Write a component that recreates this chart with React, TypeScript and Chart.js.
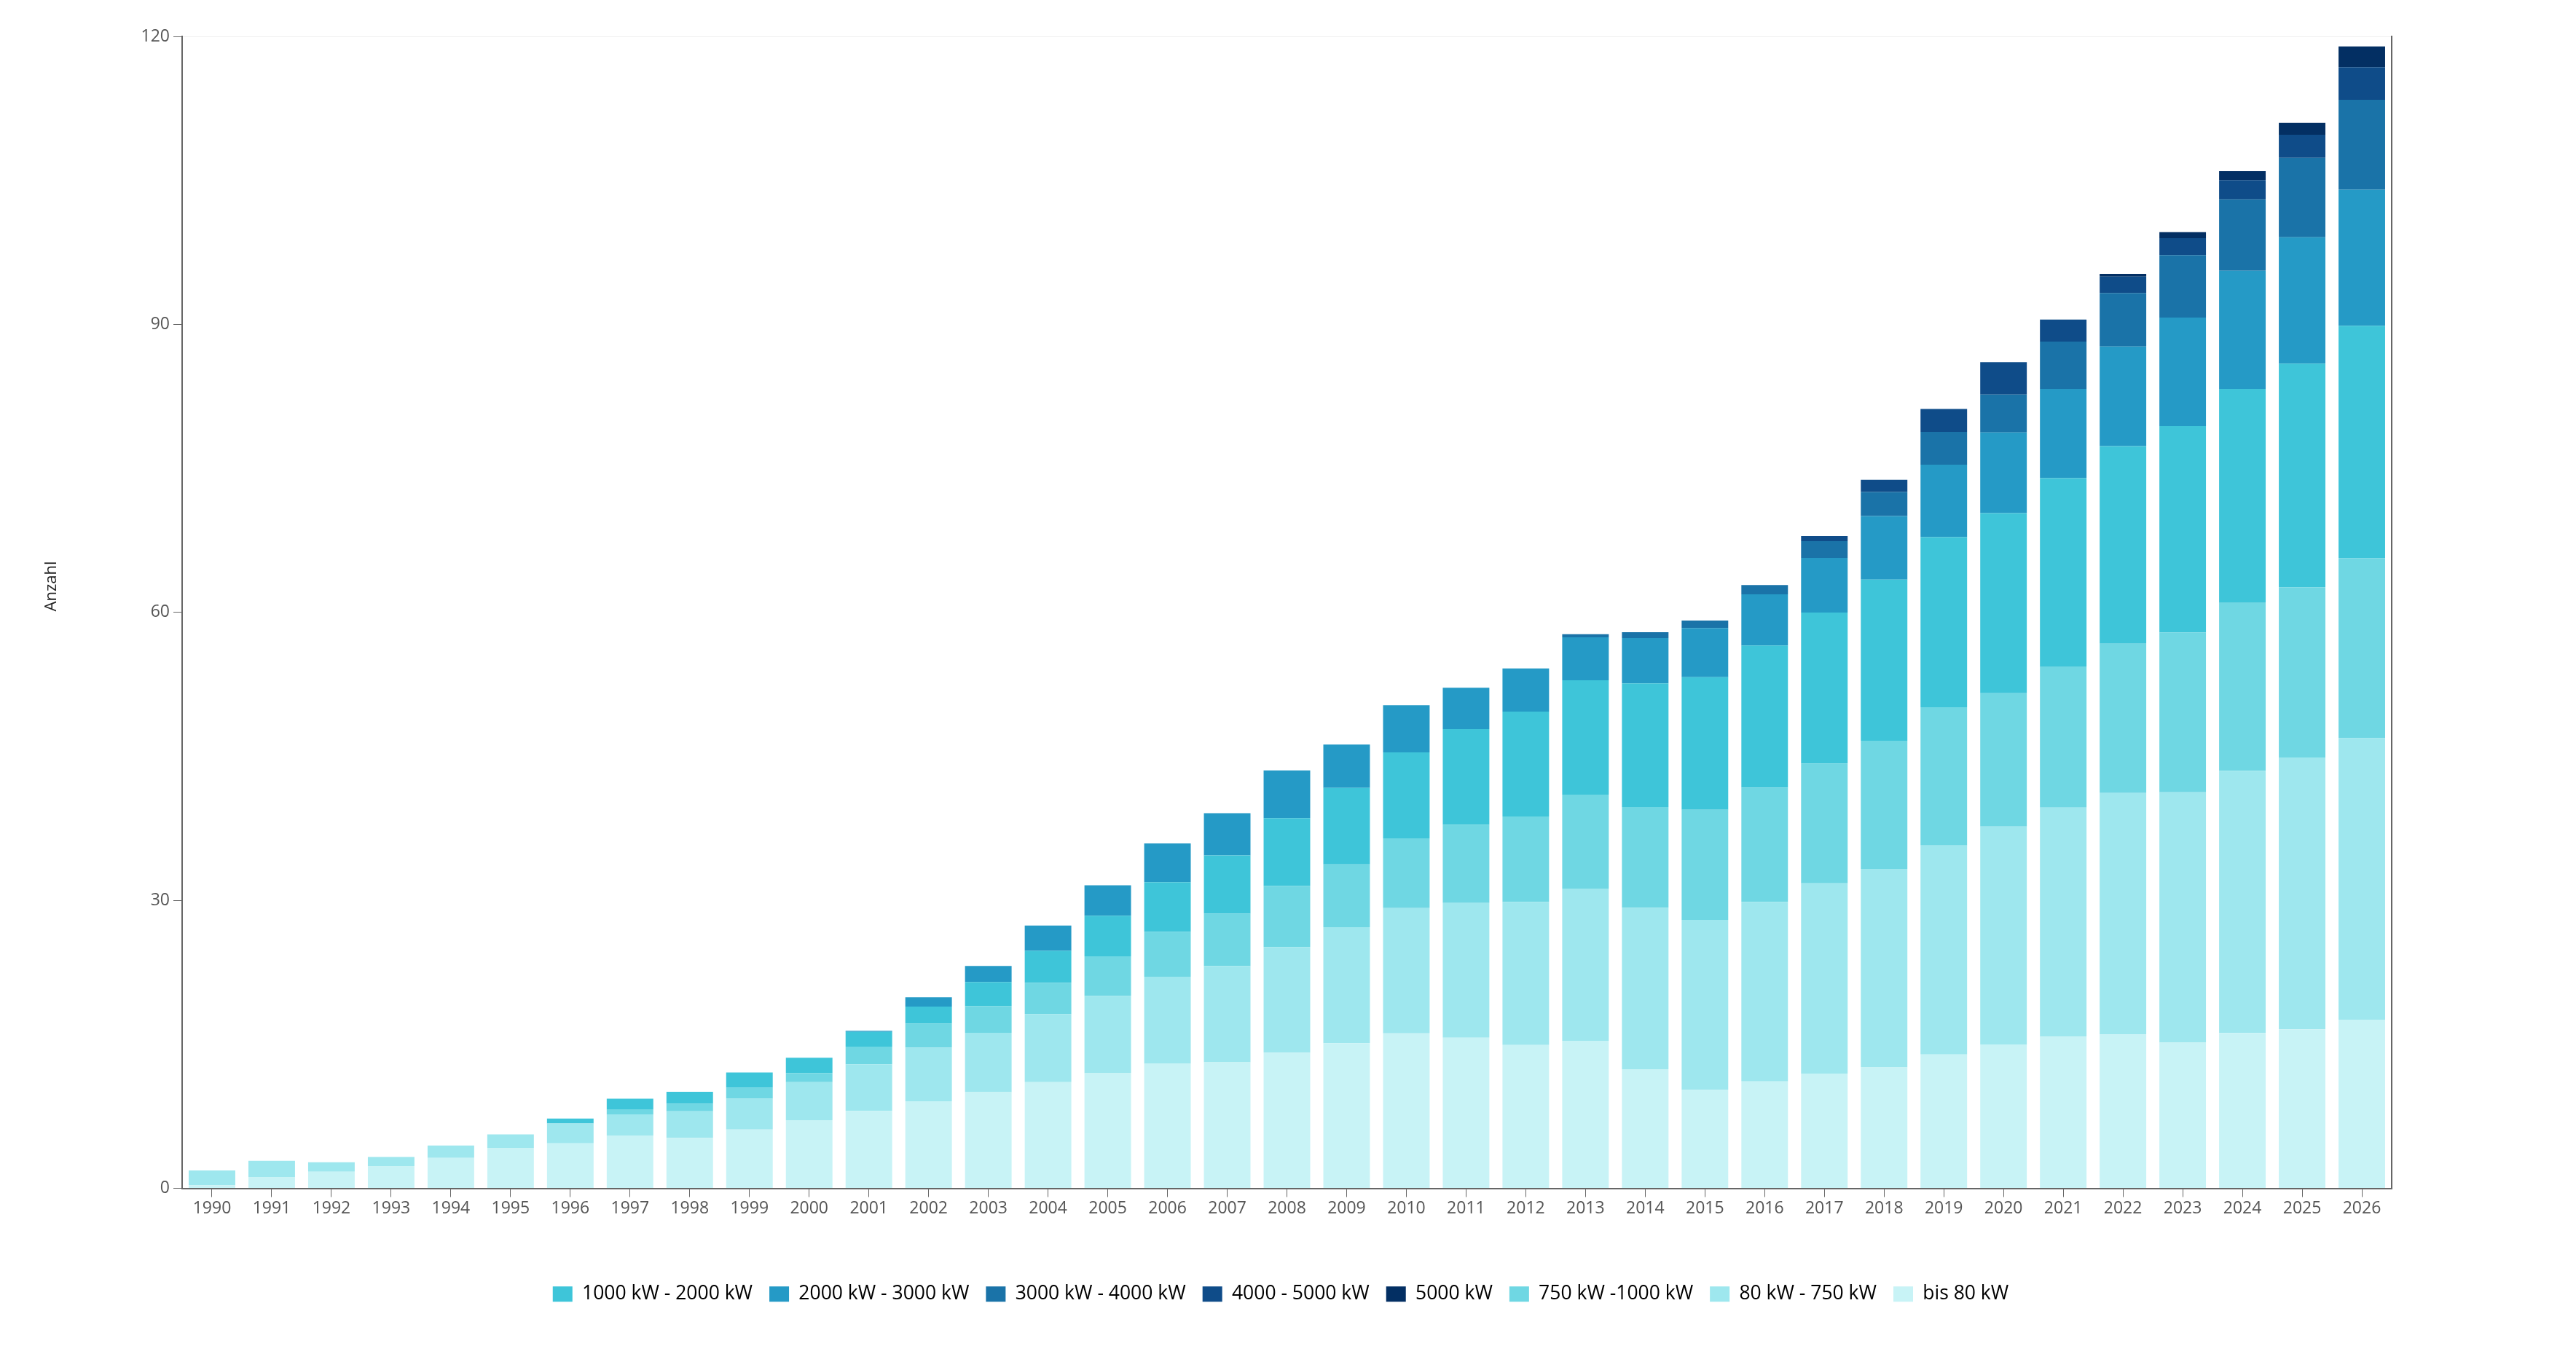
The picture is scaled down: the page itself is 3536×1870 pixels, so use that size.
import React, { useEffect, useRef } from 'react';
import { Chart, registerables } from 'chart.js';
import type { ChartConfiguration, Plugin } from 'chart.js';

Chart.register(...registerables);

const years = [
  '1990', '1991', '1992', '1993', '1994', '1995', '1996', '1997', '1998', '1999',
  '2000', '2001', '2002', '2003', '2004', '2005', '2006', '2007', '2008', '2009',
  '2010', '2011', '2012', '2013', '2014', '2015', '2016', '2017', '2018', '2019',
  '2020', '2021', '2022', '2023', '2024', '2025', '2026',
];

const bis80 = [
  0.33, 1.14, 1.72, 2.28, 3.16, 4.17, 4.68, 5.51, 5.26, 6.12,
  7.1, 8.07, 9.06, 10.02, 11.06, 11.99, 12.98, 13.12, 14.14, 15.12,
  16.14, 15.69, 14.92, 15.37, 12.4, 10.24, 11.14, 11.96, 12.6, 13.94,
  14.98, 15.8, 16.02, 15.17, 16.18, 16.56, 17.57,
];

const kw80to750 = [
  1.52, 1.72, 0.99, 0.98, 1.29, 1.44, 2.07, 2.2, 2.76, 3.21,
  3.95, 4.85, 5.6, 6.18, 7.09, 8.04, 9.06, 10.05, 11.0, 12.08,
  13.05, 14.03, 14.92, 15.85, 16.83, 17.73, 18.7, 19.81, 20.68, 21.77,
  22.71, 23.86, 25.16, 26.08, 27.32, 28.33, 29.33,
];

const kw750to1000 = [
  0, 0, 0, 0, 0, 0, 0, 0.53, 0.8, 1.16,
  0.96, 1.83, 2.5, 2.79, 3.25, 4.13, 4.67, 5.46, 6.36, 6.54,
  7.27, 8.17, 8.9, 9.8, 10.49, 11.46, 11.91, 12.48, 13.35, 14.41,
  13.88, 14.64, 15.55, 16.64, 17.49, 17.73, 18.73,
];

const kw1000to2000 = [
  0, 0, 0, 0, 0, 0, 0.51, 1.09, 1.24, 1.57,
  1.59, 1.54, 1.77, 2.5, 3.34, 4.24, 5.17, 6.04, 7.06, 7.97,
  8.95, 9.96, 10.93, 11.91, 12.88, 13.82, 14.79, 15.74, 16.78, 17.71,
  18.76, 19.68, 20.59, 21.52, 22.29, 23.29, 24.23,
];

const kw2000to3000 = [
  0, 0, 0, 0, 0, 0, 0, 0, 0, 0,
  0, 0.12, 0.96, 1.68, 2.64, 3.16, 4.04, 4.41, 4.97, 4.51,
  4.92, 4.3, 4.48, 4.47, 4.72, 5.12, 5.33, 5.69, 6.62, 7.55,
  8.42, 9.3, 10.37, 11.3, 12.31, 13.16, 14.16,
];

const kw3000to4000 = [
  0, 0, 0, 0, 0, 0, 0, 0, 0, 0,
  0, 0, 0, 0, 0, 0, 0, 0, 0, 0,
  0, 0, 0, 0.33, 0.61, 0.78, 0.98, 1.74, 2.5, 3.42,
  3.94, 4.93, 5.58, 6.5, 7.43, 8.28, 9.37,
];

const kw4000to5000 = [
  0, 0, 0, 0, 0, 0, 0, 0, 0, 0,
  0, 0, 0, 0, 0, 0, 0, 0, 0, 0,
  0, 0, 0, 0, 0, 0, 0, 0.52, 1.28, 2.38,
  3.37, 2.3, 1.7, 1.78, 2.01, 2.4, 3.4,
];

const kw5000 = [
  0, 0, 0, 0, 0, 0, 0, 0, 0, 0,
  0, 0, 0, 0, 0, 0, 0, 0, 0, 0,
  0, 0, 0, 0, 0, 0, 0, 0, 0, 0,
  0, 0, 0.3, 0.62, 0.93, 1.24, 2.17,
];

const yTicks = [0, 30, 60, 90, 120];

// order of the legend entries (stacking goes bottom-up by dataset order)
const legendOrder = [
  '1000 kW - 2000 kW', '2000 kW - 3000 kW', '3000 kW - 4000 kW', '4000 - 5000 kW',
  '5000 kW', '750 kW -1000 kW', '80 kW - 750 kW', 'bis 80 kW',
];

const FONT = '"Open Sans", "Noto Sans", sans-serif';

// y-axis title sits a bit above the axis centre in the original
const axisTitle: Plugin<'bar'> = {
  id: 'axisTitle',
  afterDraw(chart) {
    const { ctx } = chart;
    ctx.save();
    ctx.translate(71, 805);
    ctx.rotate(-Math.PI / 2);
    ctx.font = `22px ${FONT}`;
    ctx.fillStyle = '#222';
    ctx.textAlign = 'center';
    ctx.textBaseline = 'middle';
    ctx.fillText('Anzahl', 0, 0);
    ctx.restore();
  },
};

const App: React.FC = () => {
  const chartRef = useRef<HTMLCanvasElement>(null);
  const chartInstanceRef = useRef<Chart | null>(null);

  useEffect(() => {
    if (!chartRef.current) return;
    if (chartInstanceRef.current) {
      chartInstanceRef.current.destroy();
    }
    const ctx = chartRef.current.getContext('2d');
    if (!ctx) return;

    const series = [
      { label: 'bis 80 kW', data: bis80, color: '#c8f3f6' },
      { label: '80 kW - 750 kW', data: kw80to750, color: '#9ee7ee' },
      { label: '750 kW -1000 kW', data: kw750to1000, color: '#6fd7e3' },
      { label: '1000 kW - 2000 kW', data: kw1000to2000, color: '#3ec5d9' },
      { label: '2000 kW - 3000 kW', data: kw2000to3000, color: '#259ac6' },
      { label: '3000 kW - 4000 kW', data: kw3000to4000, color: '#1a73a8' },
      { label: '4000 - 5000 kW', data: kw4000to5000, color: '#0f4c89' },
      { label: '5000 kW', data: kw5000, color: '#032f63' },
    ];

    const config: ChartConfiguration<'bar'> = {
      type: 'bar',
      data: {
        labels: years,
        datasets: series.map((s) => ({
          label: s.label,
          data: s.data,
          backgroundColor: s.color,
          borderWidth: 0,
          categoryPercentage: 0.78,
          barPercentage: 1,
        })),
      },
      options: {
        responsive: false,
        devicePixelRatio: 1,
        animation: false,
        layout: {
          padding: { top: 50, right: 20, bottom: 70, left: 0 },
        },
        plugins: {
          legend: {
            position: 'bottom',
            labels: {
              boxWidth: 27,
              boxHeight: 21,
              padding: 23,
              color: '#000',
              font: { size: 26.5, family: FONT },
              sort: (a, b) => legendOrder.indexOf(a.text) - legendOrder.indexOf(b.text),
            },
          },
          tooltip: { enabled: false },
        },
        scales: {
          x: {
            stacked: true,
            grid: {
              offset: false,
              drawOnChartArea: false,
              tickLength: 12,
              tickColor: '#666',
            },
            border: { color: '#666', width: 2 },
            ticks: {
              color: '#555',
              font: { size: 23, family: FONT },
              maxRotation: 0,
              autoSkip: false,
              padding: 2,
            },
            afterFit: (scale) => {
              scale.height = 109;
            },
          },
          y: {
            stacked: true,
            min: 0,
            max: 120,
            afterBuildTicks: (scale) => {
              scale.ticks = yTicks.map((v) => ({ value: v }));
            },
            grid: {
              color: (c) => (c.tick && c.tick.value === 120 ? '#eeeeee' : 'rgba(0,0,0,0)'),
              tickColor: '#666',
              tickLength: 12,
            },
            border: { color: '#666', width: 2 },
            ticks: {
              color: '#555',
              font: { size: 23, family: FONT },
              padding: 5,
            },
            afterFit: (scale) => {
              scale.width = 250;
            },
          },
          y2: {
            position: 'right',
            min: 0,
            max: 120,
            grid: { drawOnChartArea: false, drawTicks: false },
            ticks: { display: false },
            border: { color: '#666', width: 2 },
            afterFit: (scale) => {
              scale.width = 233;
            },
          },
        },
      },
      plugins: [axisTitle],
    };

    chartInstanceRef.current = new Chart(ctx, config);

    return () => {
      if (chartInstanceRef.current) {
        chartInstanceRef.current.destroy();
        chartInstanceRef.current = null;
      }
    };
  }, []);

  return (
    <div style={{ position: 'fixed', left: 0, top: 0, width: 3536, height: 1870, background: '#fff' }}>
      <canvas ref={chartRef} width={3536} height={1870} style={{ display: 'block' }}></canvas>
    </div>
  );
};

export default App;
